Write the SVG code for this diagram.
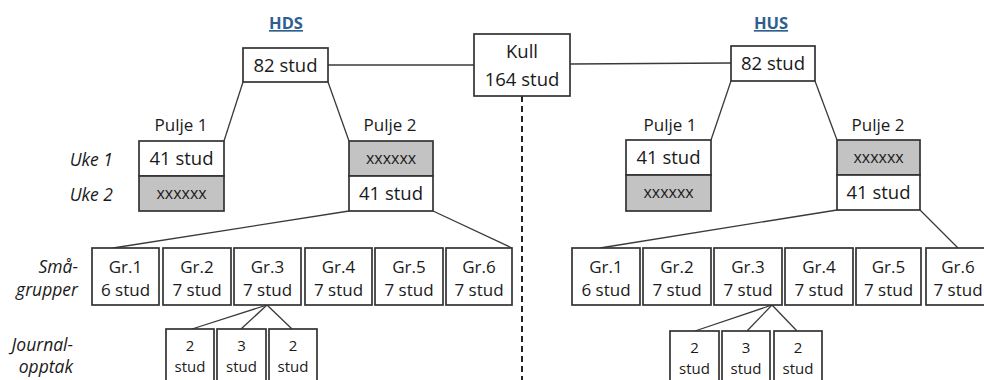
<svg xmlns="http://www.w3.org/2000/svg" width="984" height="380" viewBox="0 0 984 380">
  <style>
    .box { fill: #ffffff; stroke: #333333; stroke-width: 1.7; }
    .grey { fill: #c3c3c3; stroke: #333333; stroke-width: 1.7; }
    .t { font-family: "Open Sans", "Noto Sans", "Liberation Sans", sans-serif; font-size: 18.5px; fill: #1a1a1a; text-anchor: middle; }
    .g { font-size: 17px; }
    .p { font-size: 17px; }
    .s { font-size: 15px; }
    .x { font-size: 16px; }
    .lab { font-family: "Open Sans", "Noto Sans", "Liberation Sans", sans-serif; font-size: 17.5px; font-style: italic; fill: #1a1a1a; text-anchor: end; }
    .head { font-family: "Open Sans", "Noto Sans", "Liberation Sans", sans-serif; font-size: 16.5px; font-weight: bold; fill: #2f5f8f; text-anchor: middle; text-decoration: underline; }
    .ln { stroke: #3a3a3a; stroke-width: 1.3; fill: none; }
    .dash { stroke: #222222; stroke-width: 2; stroke-dasharray: 6 4; fill: none; }
  </style>

  <!-- connectors -->
  <g id="connectors">
    <line class="dash" x1="522" y1="96" x2="522" y2="380"/>
    <line class="ln" x1="328" y1="65" x2="474" y2="65"/>
    <line class="ln" x1="570" y1="64" x2="731" y2="63"/>
    <!-- HDS -->
    <line class="ln" x1="243" y1="82" x2="224" y2="141"/>
    <line class="ln" x1="328" y1="82" x2="349" y2="141"/>
    <line class="ln" x1="349" y1="211" x2="113" y2="248"/>
    <line class="ln" x1="433" y1="211" x2="512" y2="248"/>
    <line class="ln" x1="267" y1="305" x2="192" y2="329"/>
    <line class="ln" x1="267" y1="305" x2="241" y2="329"/>
    <line class="ln" x1="267" y1="305" x2="292" y2="329"/>
    <!-- HUS -->
    <line class="ln" x1="731" y1="81" x2="711" y2="140"/>
    <line class="ln" x1="815" y1="81" x2="837" y2="140"/>
    <line class="ln" x1="837" y1="210" x2="600" y2="248"/>
    <line class="ln" x1="920" y1="210" x2="958" y2="248"/>
    <line class="ln" x1="772" y1="305" x2="695" y2="331"/>
    <line class="ln" x1="772" y1="305" x2="747" y2="331"/>
    <line class="ln" x1="772" y1="305" x2="797" y2="331"/>
  </g>

  <!-- headings -->
  <text class="head" x="286" y="29">HDS</text>
  <text class="head" x="771" y="29">HUS</text>

  <!-- row labels -->
  <text class="lab" x="113" y="166">Uke 1</text>
  <text class="lab" x="113" y="201">Uke 2</text>
  <text class="lab" x="78" y="273">Små-</text>
  <text class="lab" x="78" y="296">grupper</text>
  <text class="lab" x="73" y="351">Journal-</text>
  <text class="lab" x="73" y="373">opptak</text>

  <g id="kull">
    <rect class="box" x="474" y="34" width="96" height="62"/>
    <text class="t" x="522" y="58">Kull</text>
    <text class="t" x="522" y="86">164 stud</text>
  </g>

  <!-- HDS branch -->
  <g id="hds-total">
    <rect class="box" x="243" y="48" width="85" height="34"/>
    <text class="t" x="285.5" y="72">82 stud</text>
  </g>
  <g id="hds-pulje1">
    <text class="t p" x="181" y="131">Pulje 1</text>
    <rect class="box" x="139" y="141" width="85" height="35"/>
    <text class="t" x="181.5" y="165">41 stud</text>
    <rect class="grey" x="139" y="176" width="85" height="35"/>
    <text class="t x" x="181.5" y="199">xxxxxx</text>
  </g>
  <g id="hds-pulje2">
    <text class="t p" x="390" y="131">Pulje 2</text>
    <rect class="grey" x="349" y="141" width="84" height="35"/>
    <text class="t x" x="391" y="164">xxxxxx</text>
    <rect class="box" x="349" y="176" width="84" height="35"/>
    <text class="t" x="391" y="200">41 stud</text>
  </g>
  <g id="hds-gr1"><rect class="box" x="92" y="248" width="67" height="57"/><text class="t g" x="125.5" y="273">Gr.1</text><text class="t g" x="125.5" y="296">6 stud</text></g>
  <g id="hds-gr2"><rect class="box" x="163" y="248" width="68" height="57"/><text class="t g" x="197" y="273">Gr.2</text><text class="t g" x="197" y="296">7 stud</text></g>
  <g id="hds-gr3"><rect class="box" x="234" y="248" width="67" height="57"/><text class="t g" x="267.5" y="273">Gr.3</text><text class="t g" x="267.5" y="296">7 stud</text></g>
  <g id="hds-gr4"><rect class="box" x="305" y="248" width="67" height="57"/><text class="t g" x="338.5" y="273">Gr.4</text><text class="t g" x="338.5" y="296">7 stud</text></g>
  <g id="hds-gr5"><rect class="box" x="375" y="248" width="68" height="57"/><text class="t g" x="409" y="273">Gr.5</text><text class="t g" x="409" y="296">7 stud</text></g>
  <g id="hds-gr6"><rect class="box" x="446" y="248" width="66" height="57"/><text class="t g" x="479" y="273">Gr.6</text><text class="t g" x="479" y="296">7 stud</text></g>
  <g id="hds-j1"><rect class="box" x="166" y="329" width="48" height="54"/><text class="t s" x="190" y="351">2</text><text class="t s" x="190" y="372">stud</text></g>
  <g id="hds-j2"><rect class="box" x="217" y="329" width="49" height="54"/><text class="t s" x="241.5" y="351">3</text><text class="t s" x="241.5" y="372">stud</text></g>
  <g id="hds-j3"><rect class="box" x="269" y="329" width="48" height="54"/><text class="t s" x="293" y="351">2</text><text class="t s" x="293" y="372">stud</text></g>

  <!-- HUS branch -->
  <g id="hus-total">
    <rect class="box" x="731" y="46" width="84" height="35"/>
    <text class="t" x="773" y="70">82 stud</text>
  </g>
  <g id="hus-pulje1">
    <text class="t p" x="670" y="131">Pulje 1</text>
    <rect class="box" x="626" y="140" width="85" height="35"/>
    <text class="t" x="668.5" y="164">41 stud</text>
    <rect class="grey" x="626" y="175" width="85" height="36"/>
    <text class="t x" x="668.5" y="198">xxxxxx</text>
  </g>
  <g id="hus-pulje2">
    <text class="t p" x="878" y="131">Pulje 2</text>
    <rect class="grey" x="837" y="140" width="83" height="35"/>
    <text class="t x" x="878.5" y="163">xxxxxx</text>
    <rect class="box" x="837" y="175" width="83" height="35"/>
    <text class="t" x="878.5" y="199">41 stud</text>
  </g>
  <g id="hus-gr1"><rect class="box" x="572" y="248" width="68" height="57"/><text class="t g" x="606" y="273">Gr.1</text><text class="t g" x="606" y="296">6 stud</text></g>
  <g id="hus-gr2"><rect class="box" x="643" y="248" width="68" height="57"/><text class="t g" x="677" y="273">Gr.2</text><text class="t g" x="677" y="296">7 stud</text></g>
  <g id="hus-gr3"><rect class="box" x="714" y="248" width="68" height="57"/><text class="t g" x="748" y="273">Gr.3</text><text class="t g" x="748" y="296">7 stud</text></g>
  <g id="hus-gr4"><rect class="box" x="785" y="248" width="68" height="57"/><text class="t g" x="819" y="273">Gr.4</text><text class="t g" x="819" y="296">7 stud</text></g>
  <g id="hus-gr5"><rect class="box" x="856" y="248" width="65" height="57"/><text class="t g" x="888.5" y="273">Gr.5</text><text class="t g" x="888.5" y="296">7 stud</text></g>
  <g id="hus-gr6"><rect class="box" x="926" y="248" width="68" height="57"/><text class="t g" x="958" y="273">Gr.6</text><text class="t g" x="958" y="296">7 stud</text></g>
  <g id="hus-j1"><rect class="box" x="670" y="331" width="49" height="52"/><text class="t s" x="694.5" y="353">2</text><text class="t s" x="694.5" y="374">stud</text></g>
  <g id="hus-j2"><rect class="box" x="722" y="331" width="48" height="52"/><text class="t s" x="746" y="353">3</text><text class="t s" x="746" y="374">stud</text></g>
  <g id="hus-j3"><rect class="box" x="774" y="331" width="48" height="52"/><text class="t s" x="798" y="353">2</text><text class="t s" x="798" y="374">stud</text></g>
</svg>
